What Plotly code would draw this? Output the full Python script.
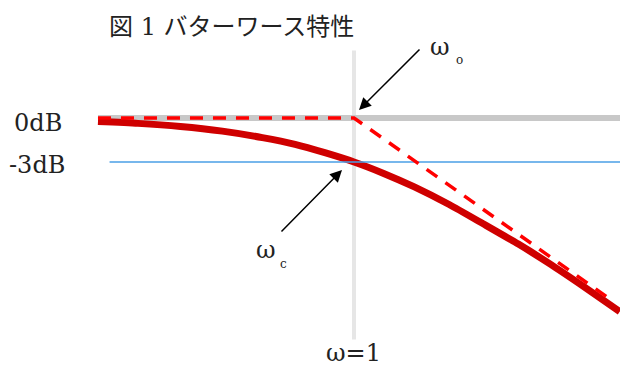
"""Butterworth response sketch (figure 1)"""

import plotly.graph_objects as go

# Data: omega (log scale) and gain in dB.
curve_omega = [0.24, 0.30, 0.38, 0.48, 0.60, 0.72, 0.85, 1.0,
               1.18, 1.40, 1.70, 2.05, 2.50, 3.00, 3.60, 4.40]
curve_db = [-0.25, -0.37, -0.58, -0.9, -1.34, -1.8, -2.37, -3.0,
            -3.78, -4.7, -5.9, -7.2, -8.6, -10.0, -11.5, -13.2]

asym_omega = [0.24, 1.0, 4.24]
asym_db = [0.0, 0.0, -12.5]

zero_omega = [0.24, 4.6]
zero_db = [0.0, 0.0]

cut_omega = [0.256, 4.6]
cut_db = [-3.0, -3.0]

unit_omega = [1.0, 1.0]
unit_db = [4.6, -15.1]

W, H = 620, 365


def px(x, y):
    """Paper coordinates from picture pixels (margins are zero)."""
    return x / W, 1 - y / H


fig = go.Figure()

# Guides.
fig.add_trace(go.Scatter(x=unit_omega, y=unit_db, mode="lines",
                         line=dict(color="#e6e6e6", width=4)))
fig.add_trace(go.Scatter(x=zero_omega, y=zero_db, mode="lines",
                         line=dict(color="#c8c8c8", width=6)))
# Response curve.
fig.add_trace(go.Scatter(x=curve_omega, y=curve_db, mode="lines",
                         line=dict(color="#cf0000", width=7, shape="spline",
                                   smoothing=0.6)))
fig.add_trace(go.Scatter(x=cut_omega, y=cut_db, mode="lines",
                         line=dict(color="#4a9fe6", width=1.5)))
# Asymptote.
fig.add_trace(go.Scatter(x=asym_omega, y=asym_db, mode="lines",
                         line=dict(color="#ff0000", width=3.5, dash="13px,10px")))

serif = "DejaVu Serif, Liberation Serif, serif"
notes = []


def text(x, y, s, size, anchor="center", family=serif):
    xp, yp = px(x, y)
    notes.append(dict(x=xp, y=yp, xref="paper", yref="paper", text=s,
                      showarrow=False, xanchor=anchor, yanchor="middle",
                      font=dict(family=family, size=size, color="#222")))


def arrow(tip, tail):
    xp, yp = px(*tip)
    notes.append(dict(x=xp, y=yp, xref="paper", yref="paper", text="",
                      showarrow=True, ax=tail[0] - tip[0], ay=tail[1] - tip[1],
                      arrowhead=2, arrowsize=1.6, arrowwidth=1.5,
                      arrowcolor="black"))


text(107, 27, "図 1 バターワース特性", 24, "left",
     "DejaVu Serif, Noto Sans CJK JP")
text(38, 123, "0dB", 24)
text(37, 165, "-3dB", 24)
text(440, 47, "ω", 24)
text(459, 60, "o", 12)
text(266, 250, "ω", 24)
text(283, 264, "c", 12)
text(353, 353, "ω=1", 24)
arrow((359, 110), (421, 48))
arrow((342, 170), (280, 233))

fig.update_layout(
    width=W, height=H,
    margin=dict(l=0, r=0, t=0, b=0),
    paper_bgcolor="white", plot_bgcolor="white",
    showlegend=False,
    annotations=notes,
)
fig.update_xaxes(type="log", range=[-0.857, 0.644], visible=False)
fig.update_yaxes(range=[-16.84, 8.04], visible=False)

fig.write_html("out.html", config={"displayModeBar": False},
               post_script="document.body.style.margin='0';")
